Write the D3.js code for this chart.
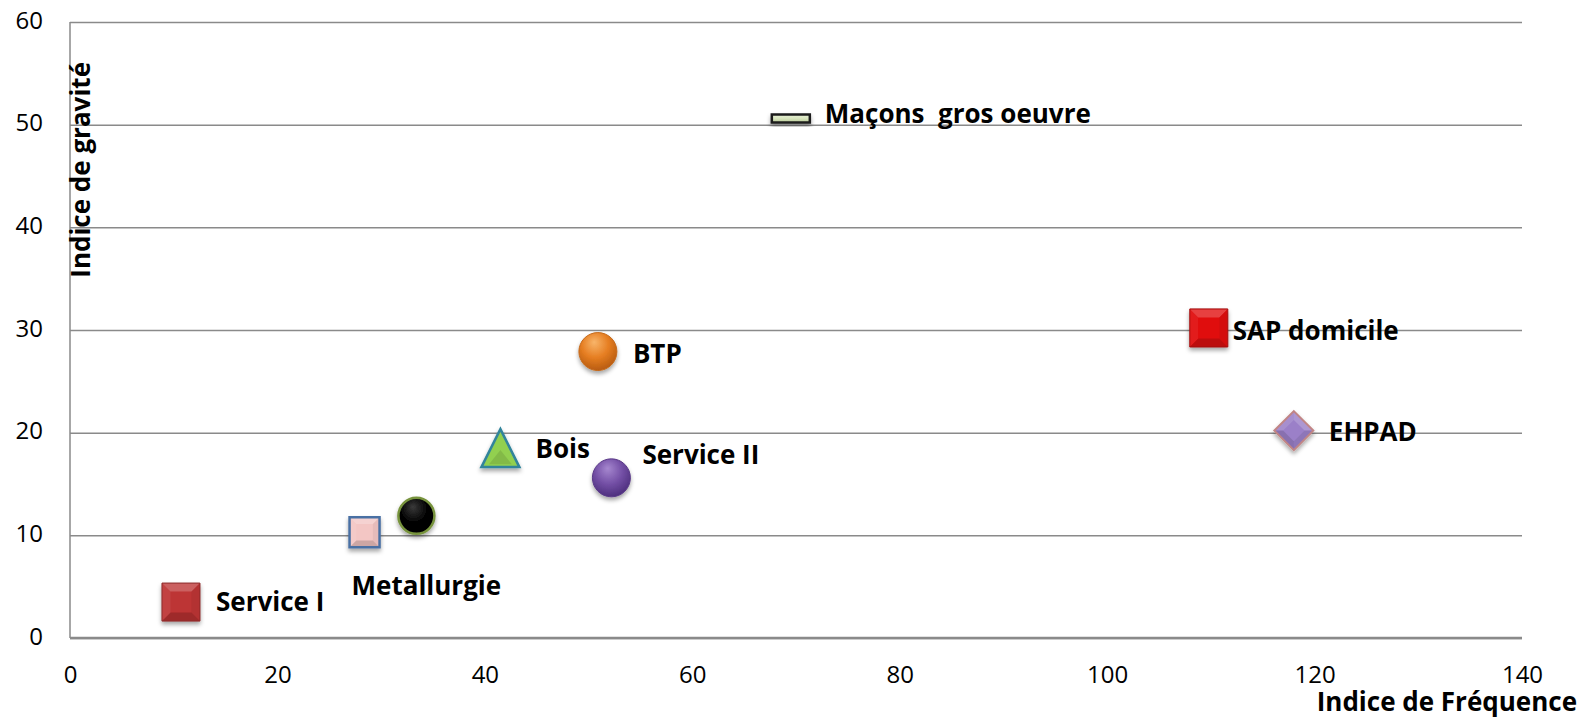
<!DOCTYPE html>
<meta charset="utf-8">

<style>
body { margin: 0; background: #fff; }
.tick text {
  font-family: "Open Sans", sans-serif;
  font-size: 24px;
  fill: #000;
}
.label {
  font-family: "Open Sans", sans-serif;
  font-size: 26px;
  font-weight: 700;
  fill: #000;
  white-space: pre;
}
.title {
  font-family: "Open Sans", sans-serif;
  font-size: 26px;
  font-weight: 700;
  fill: #000;
}
</style>

<div id="chart"></div>

<body>
  <script src="https://d3js.org/d3.v7.min.js"></script>
  <script>
  // data
  var sectors   = ["Service I", "Metallurgie", "", "Bois", "BTP", "Service II", "Maçons  gros oeuvre", "SAP domicile", "EHPAD"];
  var frequence = [10.7, 28.4, 33.4, 41.5, 50.9, 52.2, 69.5, 109.8, 118.0];
  var gravite   = [3.5, 10.3, 11.9, 18.5, 27.9, 15.6, 50.6, 30.2, 20.2];
  var xTicks = [0, 20, 40, 60, 80, 100, 120, 140];
  var yTicks = [0, 10, 20, 30, 40, 50, 60];

  // marker look + label placement, one per sector
  var looks = [
    {shape: "square",   size: 38, fill: "#bd3434", light: "#d8605e", dark: "#8a2222", stroke: "#8c2b2b", sw: 1,   dx: 35,  dy: 9},
    {shape: "square",   size: 30, fill: "#f3c6c4", light: "#fbe3e2", dark: "#e0a8a6", stroke: "#4a70a4", sw: 2.5, dx: -13, dy: 63},
    {shape: "circle",   size: 36, fill: "#050505", light: "#3a3a3a", dark: "#000000", stroke: "#77933c", sw: 2.5, dx: 0,   dy: 0},
    {shape: "triangle", size: 38, fill: "#92d050", light: "#b4e37e", dark: "#6ea836", stroke: "#31849b", sw: 2.5, dx: 35,  dy: 10},
    {shape: "circle",   size: 38, fill: "#e67e22", light: "#f8b56a", dark: "#b85c10", stroke: "#c46a1c", sw: 1,   dx: 35,  dy: 11},
    {shape: "circle",   size: 38, fill: "#7450a6", light: "#a687cf", dark: "#4e2f7e", stroke: "#5a3a88", sw: 1,   dx: 31,  dy: -14},
    {shape: "dash",     size: 38, fill: "#d7e4bd", light: "#eaf2d8", dark: "#b8c998", stroke: "#1a1a1a", sw: 2.5, dx: 34,  dy: 4},
    {shape: "square",   size: 38, fill: "#e00c0c", light: "#f24a4a", dark: "#a80000", stroke: "#a30a0a", sw: 1,   dx: 24,  dy: 12},
    {shape: "diamond",  size: 39, fill: "#9b80c8", light: "#b7a2dc", dark: "#7a5fa8", stroke: "#c18585", sw: 2,   dx: 35,  dy: 10}
  ];

  var margin = {top: 22, right: 71, bottom: 81, left: 70},
      width = 1593 - margin.left - margin.right,
      height = 719 - margin.top - margin.bottom;

  var x = d3.scaleLinear().domain([0, 140]).range([0, width]);
  var y = d3.scaleLinear().domain([0, 60]).range([height, 0]);

  var root = d3.select("#chart")
    .append("svg")
    .attr("width", 1593)
    .attr("height", 719);

  var defs = root.append("defs");

  var shadow = defs.append("filter")
    .attr("id", "shadow")
    .attr("x", "-50%").attr("y", "-50%")
    .attr("width", "200%").attr("height", "200%");
  shadow.append("feDropShadow")
    .attr("dx", 0).attr("dy", 3)
    .attr("stdDeviation", 2.2)
    .attr("flood-color", "#000")
    .attr("flood-opacity", 0.35);

  looks.forEach(function(l, i) {
    var rg = defs.append("radialGradient")
      .attr("id", "sph" + i)
      .attr("cx", "45%").attr("cy", "35%").attr("r", "65%")
      .attr("fx", "40%").attr("fy", "25%");
    rg.append("stop").attr("offset", "0%").attr("stop-color", l.light);
    rg.append("stop").attr("offset", "55%").attr("stop-color", l.fill);
    rg.append("stop").attr("offset", "100%").attr("stop-color", l.dark);

    var lg = defs.append("linearGradient")
      .attr("id", "lin" + i)
      .attr("x1", 0).attr("y1", 0).attr("x2", 0).attr("y2", 1);
    lg.append("stop").attr("offset", "0%").attr("stop-color", l.light);
    lg.append("stop").attr("offset", "50%").attr("stop-color", l.fill);
    lg.append("stop").attr("offset", "100%").attr("stop-color", l.dark);
  });

  var svg = root.append("g")
    .attr("transform", "translate(" + margin.left + "," + margin.top + ")");

  // horizontal gridlines + y labels
  var yAxis = svg.append("g")
    .call(d3.axisLeft(y).tickValues(yTicks).tickSize(-width).tickPadding(27));
  yAxis.select(".domain").remove();
  yAxis.selectAll(".tick line")
    .attr("stroke", "#8a8a8a")
    .attr("stroke-width", 1.5);
  yAxis.selectAll(".tick text")
    .attr("dy", "0.25em");

  // x labels
  var xAxis = svg.append("g")
    .attr("transform", "translate(0," + height + ")")
    .call(d3.axisBottom(x).tickValues(xTicks).tickSize(0).tickPadding(28));
  xAxis.select(".domain").remove();

  // axis lines
  svg.append("line")
    .attr("x1", 0).attr("x2", 0)
    .attr("y1", 0).attr("y2", height)
    .attr("stroke", "#8a8a8a")
    .attr("stroke-width", 1.5);
  svg.append("line")
    .attr("x1", 0).attr("x2", width)
    .attr("y1", height).attr("y2", height)
    .attr("stroke", "#8a8a8a")
    .attr("stroke-width", 2.5);

  // axis titles
  svg.append("text")
    .attr("class", "title")
    .attr("transform", "translate(20,40) rotate(-90)")
    .attr("text-anchor", "end")
    .text("Indice de gravité");

  svg.append("text")
    .attr("class", "title")
    .attr("x", 1577 - margin.left)
    .attr("y", 711 - margin.top)
    .attr("text-anchor", "end")
    .text("Indice de Fréquence");

  var points = sectors.map(function(s, i) {
    return {name: s, f: frequence[i], g: gravite[i], look: looks[i], i: i};
  });

  var marks = svg.append("g")
    .selectAll("g")
    .data(points)
    .enter()
    .append("g")
    .attr("transform", function(d) { return "translate(" + x(d.f) + "," + y(d.g) + ")"; });

  marks.each(function(d) {
    var g = d3.select(this).append("g").attr("filter", "url(#shadow)");
    var l = d.look, h = l.size / 2;

    if (l.shape === "circle") {
      g.append("circle")
        .attr("r", h)
        .attr("fill", "url(#sph" + d.i + ")")
        .attr("stroke", l.stroke)
        .attr("stroke-width", l.sw);
    } else if (l.shape === "square" || l.shape === "diamond") {
      var pts = l.shape === "square"
        ? [[-h, -h], [h, -h], [h, h], [-h, h]]
        : [[0, -h], [h, 0], [0, h], [-h, 0]];
      g.append("polygon")
        .attr("points", pts.join(" "))
        .attr("fill", l.fill);
      // soft bevel facets round a flat centre
      var k = 0.55;
      var inner = pts.map(function(p) { return [p[0] * k, p[1] * k]; });
      var shades = l.shape === "square"
        ? [["#fff", 0.22], ["#000", 0.05], ["#000", 0.16], ["#fff", 0.08]]
        : [["#fff", 0.18], ["#000", 0.08], ["#000", 0.12], ["#fff", 0.12]];
      for (var j = 0; j < 4; j++) {
        var a = pts[j], b = pts[(j + 1) % 4], c = inner[(j + 1) % 4], e = inner[j];
        g.append("polygon")
          .attr("points", [a, b, c, e].join(" "))
          .attr("fill", shades[j][0])
          .attr("fill-opacity", shades[j][1]);
      }
      g.append("polygon")
        .attr("points", pts.join(" "))
        .attr("fill", "none")
        .attr("stroke", l.stroke)
        .attr("stroke-width", l.sw);
    } else if (l.shape === "triangle") {
      var tp = [[0, -h], [h, h], [-h, h]];
      g.append("polygon")
        .attr("points", tp.join(" "))
        .attr("fill", l.fill)
        .attr("stroke", l.stroke)
        .attr("stroke-width", l.sw)
        .attr("stroke-linejoin", "miter");
      g.append("polygon")
        .attr("points", [[0, h * 0.1], [h * 0.6, h * 0.85], [-h * 0.6, h * 0.85]].join(" "))
        .attr("fill", "#000")
        .attr("fill-opacity", 0.1);
    } else if (l.shape === "dash") {
      g.append("rect")
        .attr("x", -h).attr("y", -4)
        .attr("width", l.size).attr("height", 8)
        .attr("fill", "url(#lin" + d.i + ")")
        .attr("stroke", l.stroke)
        .attr("stroke-width", l.sw);
    }
  });

  marks.filter(function(d) { return d.name !== ""; })
    .append("text")
    .attr("class", "label")
    .attr("x", function(d) { return d.look.dx; })
    .attr("y", function(d) { return d.look.dy; })
    .text(function(d) { return d.name; });
  </script>
</body>
